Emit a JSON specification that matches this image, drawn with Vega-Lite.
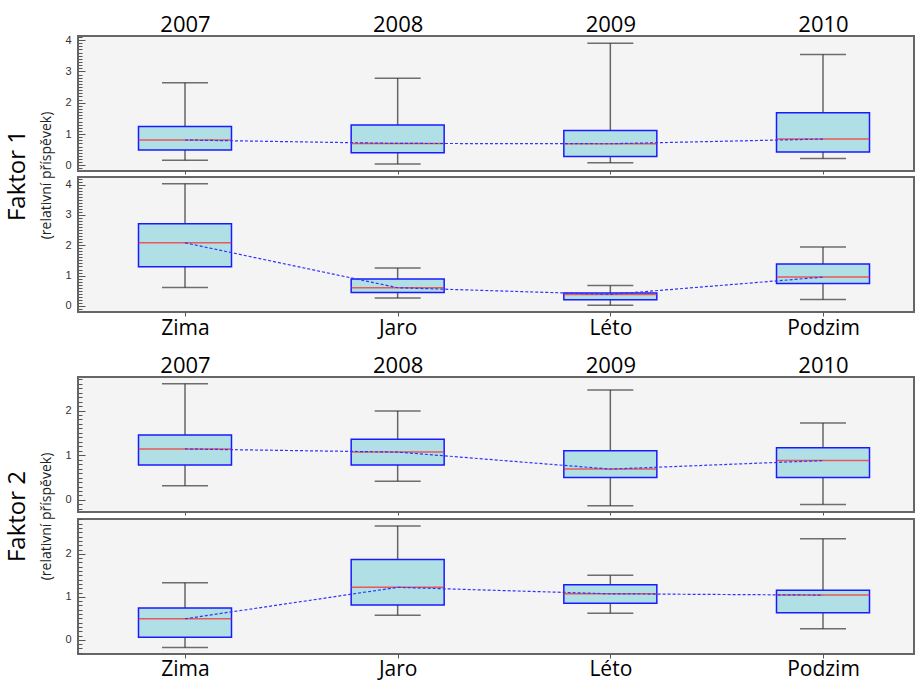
{
  "$schema": "https://vega.github.io/schema/vega-lite/v6.json",
  "background": "white",
  "padding": {"top": 12, "left": 5, "right": 2, "bottom": 0},
  "config": {
    "view": {"fill": "#f4f4f4", "stroke": "#666666", "strokeWidth": 2},
    "axis": {"grid": false, "domain": false},
    "axisY": {"labelOverlap": false, "tickColor": "#555555", "labelFont": "Liberation Sans", "labelFontSize": 11, "labelColor": "#333333", "tickWidth": 1}
  },
  "vconcat": [
    {
      "title": {"text": "Faktor 1", "subtitle": "(relativní příspěvek)", "orient": "left", "anchor": "middle", "offset": 10, "subtitlePadding": 10, "font": "Open Sans", "fontWeight": "normal", "fontSize": 24, "color": "#000000", "subtitleFont": "Open Sans", "subtitleFontSize": 14, "subtitleColor": "#222222"},
      "spacing": 0,
      "vconcat": [
        {
          "width": 836, "height": 135,
          "data": {"values": [
            {"k": "2007", "lo": 0.16, "q1": 0.49, "med": 0.81, "q3": 1.24, "hi": 2.64},
            {"k": "2008", "lo": 0.04, "q1": 0.40, "med": 0.70, "q3": 1.29, "hi": 2.78},
            {"k": "2009", "lo": 0.08, "q1": 0.28, "med": 0.69, "q3": 1.11, "hi": 3.90},
            {"k": "2010", "lo": 0.22, "q1": 0.43, "med": 0.84, "q3": 1.68, "hi": 3.54}
          ]},
          "encoding": {"x": {"field": "k", "type": "ordinal", "sort": null, "title": null, "scale": {"type": "point", "range": [107, 745], "padding": 0}, "axis": null}},
          "resolve": {"axis": {"y": "independent", "x": "independent"}},
          "layer": [
            {"mark": {"type": "rule", "color": "#666666", "strokeWidth": 1.5},
             "encoding": {
               "x": {"field": "k", "type": "ordinal", "sort": null, "title": null, "scale": {"type": "point", "range": [107, 745], "padding": 0},
                 "axis": {"orient": "top", "ticks": false, "labelPadding": 0, "labelFont": "Open Sans", "labelFontSize": 22, "labelColor": "#000000", "labelAngle": 0}},
               "y": {"field": "lo", "type": "quantitative", "title": null, "scale": {"domain": [-0.18, 4.13], "nice": false, "zero": false},
               "axis": {"values": [0, 1, 2, 3, 4], "format": "d", "tickSize": -7, "labelPadding": 14}},
               "y2": {"field": "hi"}}},
            {"mark": {"type": "tick", "color": "#333333", "size": 46, "thickness": 1.5}, "encoding": {
               "x": {"field": "k", "type": "ordinal", "sort": null, "title": null, "scale": {"type": "point", "range": [107, 745], "padding": 0},
                 "axis": {"orient": "bottom", "labels": false, "tickSize": 3, "tickColor": "#555555"}},
               "y": {"field": "lo", "type": "quantitative", "title": null,
               "axis": {"orient": "left", "labels": false, "tickSize": -4, "values": [-0.1,0.1,0.2,0.3,0.4,0.5,0.6,0.7,0.8,0.9,1.1,1.2,1.3,1.4,1.5,1.6,1.7,1.8,1.9,2.1,2.2,2.3,2.4,2.5,2.6,2.7,2.8,2.9,3.1,3.2,3.3,3.4,3.5,3.6,3.7,3.8,3.9,4.1]}}}},
            {"mark": {"type": "tick", "color": "#333333", "size": 46, "thickness": 1.5}, "encoding": {"y": {"field": "hi", "type": "quantitative", "title": null, "axis": null}}},
            {"mark": {"type": "bar", "size": 93, "fill": "#b0dfe5", "stroke": "#1a1aff", "strokeWidth": 1.5}, "encoding": {"y": {"field": "q1", "type": "quantitative", "title": null, "axis": null}, "y2": {"field": "q3"}}},
            {"mark": {"type": "tick", "color": "#ff2020", "size": 93, "thickness": 1.5}, "encoding": {"y": {"field": "med", "type": "quantitative", "title": null, "axis": null}}},
            {"mark": {"type": "line", "color": "#3333ff", "strokeWidth": 1.2, "strokeDash": [3, 2]}, "encoding": {"y": {"field": "med", "type": "quantitative", "title": null, "axis": null}}}
          ]
        },
        {
          "width": 836, "height": 135,
          "data": {"values": [
            {"k": "Zima", "lo": 0.61, "q1": 1.29, "med": 2.08, "q3": 2.71, "hi": 4.03},
            {"k": "Jaro", "lo": 0.26, "q1": 0.44, "med": 0.60, "q3": 0.89, "hi": 1.25},
            {"k": "Léto", "lo": 0.02, "q1": 0.20, "med": 0.38, "q3": 0.43, "hi": 0.67},
            {"k": "Podzim", "lo": 0.21, "q1": 0.74, "med": 0.95, "q3": 1.38, "hi": 1.94}
          ]},
          "encoding": {"x": {"field": "k", "type": "ordinal", "sort": null, "title": null, "scale": {"type": "point", "range": [107, 745], "padding": 0},
            "axis": {"orient": "bottom", "tickSize": 4, "tickColor": "#555555", "labelPadding": 1, "labelFont": "Open Sans", "labelFontSize": 21, "labelColor": "#000000", "labelAngle": 0}}},
          "resolve": {"axis": {"y": "independent"}},
          "layer": [
            {"mark": {"type": "rule", "color": "#666666", "strokeWidth": 1.5},
             "encoding": {"y": {"field": "lo", "type": "quantitative", "title": null, "scale": {"domain": [-0.2, 4.25], "nice": false, "zero": false},
               "axis": {"values": [0, 1, 2, 3, 4], "format": "d", "tickSize": -7, "labelPadding": 14}},
               "y2": {"field": "hi"}}},
            {"mark": {"type": "tick", "color": "#333333", "size": 46, "thickness": 1.5}, "encoding": {"y": {"field": "lo", "type": "quantitative", "title": null,
               "axis": {"orient": "left", "labels": false, "tickSize": -4, "values": [-0.1,0.1,0.2,0.3,0.4,0.5,0.6,0.7,0.8,0.9,1.1,1.2,1.3,1.4,1.5,1.6,1.7,1.8,1.9,2.1,2.2,2.3,2.4,2.5,2.6,2.7,2.8,2.9,3.1,3.2,3.3,3.4,3.5,3.6,3.7,3.8,3.9,4.1,4.2]}}}},
            {"mark": {"type": "tick", "color": "#333333", "size": 46, "thickness": 1.5}, "encoding": {"y": {"field": "hi", "type": "quantitative", "title": null, "axis": null}}},
            {"mark": {"type": "bar", "size": 93, "fill": "#b0dfe5", "stroke": "#1a1aff", "strokeWidth": 1.5}, "encoding": {"y": {"field": "q1", "type": "quantitative", "title": null, "axis": null}, "y2": {"field": "q3"}}},
            {"mark": {"type": "tick", "color": "#ff2020", "size": 93, "thickness": 1.5}, "encoding": {"y": {"field": "med", "type": "quantitative", "title": null, "axis": null}}},
            {"mark": {"type": "line", "color": "#3333ff", "strokeWidth": 1.2, "strokeDash": [3, 2]}, "encoding": {"y": {"field": "med", "type": "quantitative", "title": null, "axis": null}}}
          ]
        }
      ]
    },
    {
      "title": {"text": "Faktor 2", "subtitle": "(relativní příspěvek)", "orient": "left", "anchor": "middle", "offset": 10, "subtitlePadding": 10, "font": "Open Sans", "fontWeight": "normal", "fontSize": 24, "color": "#000000", "subtitleFont": "Open Sans", "subtitleFontSize": 14, "subtitleColor": "#222222"},
      "spacing": 0,
      "vconcat": [
        {
          "width": 836, "height": 135,
          "data": {"values": [
            {"k": "2007", "lo": 0.32, "q1": 0.78, "med": 1.14, "q3": 1.45, "hi": 2.60},
            {"k": "2008", "lo": 0.42, "q1": 0.78, "med": 1.07, "q3": 1.36, "hi": 1.99},
            {"k": "2009", "lo": -0.13, "q1": 0.50, "med": 0.69, "q3": 1.10, "hi": 2.46},
            {"k": "2010", "lo": -0.10, "q1": 0.50, "med": 0.88, "q3": 1.17, "hi": 1.72}
          ]},
          "encoding": {"x": {"field": "k", "type": "ordinal", "sort": null, "title": null, "scale": {"type": "point", "range": [107, 745], "padding": 0}, "axis": null}},
          "resolve": {"axis": {"y": "independent", "x": "independent"}},
          "layer": [
            {"mark": {"type": "rule", "color": "#666666", "strokeWidth": 1.5},
             "encoding": {
               "x": {"field": "k", "type": "ordinal", "sort": null, "title": null, "scale": {"type": "point", "range": [107, 745], "padding": 0},
                 "axis": {"orient": "top", "ticks": false, "labelPadding": 0, "labelFont": "Open Sans", "labelFontSize": 22, "labelColor": "#000000", "labelAngle": 0}},
               "y": {"field": "lo", "type": "quantitative", "title": null, "scale": {"domain": [-0.27, 2.75], "nice": false, "zero": false},
               "axis": {"values": [0, 1, 2], "format": "d", "tickSize": -7, "labelPadding": 14}},
               "y2": {"field": "hi"}}},
            {"mark": {"type": "tick", "color": "#333333", "size": 46, "thickness": 1.5}, "encoding": {
               "x": {"field": "k", "type": "ordinal", "sort": null, "title": null, "scale": {"type": "point", "range": [107, 745], "padding": 0},
                 "axis": {"orient": "bottom", "labels": false, "tickSize": 3, "tickColor": "#555555"}},
               "y": {"field": "lo", "type": "quantitative", "title": null,
               "axis": {"orient": "left", "labels": false, "tickSize": -4, "values": [-0.2,-0.1,0.1,0.2,0.3,0.4,0.5,0.6,0.7,0.8,0.9,1.1,1.2,1.3,1.4,1.5,1.6,1.7,1.8,1.9,2.1,2.2,2.3,2.4,2.5,2.6,2.7]}}}},
            {"mark": {"type": "tick", "color": "#333333", "size": 46, "thickness": 1.5}, "encoding": {"y": {"field": "hi", "type": "quantitative", "title": null, "axis": null}}},
            {"mark": {"type": "bar", "size": 93, "fill": "#b0dfe5", "stroke": "#1a1aff", "strokeWidth": 1.5}, "encoding": {"y": {"field": "q1", "type": "quantitative", "title": null, "axis": null}, "y2": {"field": "q3"}}},
            {"mark": {"type": "tick", "color": "#ff2020", "size": 93, "thickness": 1.5}, "encoding": {"y": {"field": "med", "type": "quantitative", "title": null, "axis": null}}},
            {"mark": {"type": "line", "color": "#3333ff", "strokeWidth": 1.2, "strokeDash": [3, 2]}, "encoding": {"y": {"field": "med", "type": "quantitative", "title": null, "axis": null}}}
          ]
        },
        {
          "width": 836, "height": 135,
          "data": {"values": [
            {"k": "Zima", "lo": -0.18, "q1": 0.06, "med": 0.49, "q3": 0.74, "hi": 1.33},
            {"k": "Jaro", "lo": 0.57, "q1": 0.81, "med": 1.22, "q3": 1.87, "hi": 2.65},
            {"k": "Léto", "lo": 0.62, "q1": 0.85, "med": 1.07, "q3": 1.28, "hi": 1.50},
            {"k": "Podzim", "lo": 0.26, "q1": 0.63, "med": 1.04, "q3": 1.15, "hi": 2.35}
          ]},
          "encoding": {"x": {"field": "k", "type": "ordinal", "sort": null, "title": null, "scale": {"type": "point", "range": [107, 745], "padding": 0},
            "axis": {"orient": "bottom", "tickSize": 4, "tickColor": "#555555", "labelPadding": 0, "labelFont": "Open Sans", "labelFontSize": 21, "labelColor": "#000000", "labelAngle": 0}}},
          "resolve": {"axis": {"y": "independent"}},
          "layer": [
            {"mark": {"type": "rule", "color": "#666666", "strokeWidth": 1.5},
             "encoding": {"y": {"field": "lo", "type": "quantitative", "title": null, "scale": {"domain": [-0.33, 2.81], "nice": false, "zero": false},
               "axis": {"values": [0, 1, 2], "format": "d", "tickSize": -7, "labelPadding": 14}},
               "y2": {"field": "hi"}}},
            {"mark": {"type": "tick", "color": "#333333", "size": 46, "thickness": 1.5}, "encoding": {"y": {"field": "lo", "type": "quantitative", "title": null,
               "axis": {"orient": "left", "labels": false, "tickSize": -4, "values": [-0.3,-0.2,-0.1,0.1,0.2,0.3,0.4,0.5,0.6,0.7,0.8,0.9,1.1,1.2,1.3,1.4,1.5,1.6,1.7,1.8,1.9,2.1,2.2,2.3,2.4,2.5,2.6,2.7,2.8]}}}},
            {"mark": {"type": "tick", "color": "#333333", "size": 46, "thickness": 1.5}, "encoding": {"y": {"field": "hi", "type": "quantitative", "title": null, "axis": null}}},
            {"mark": {"type": "bar", "size": 93, "fill": "#b0dfe5", "stroke": "#1a1aff", "strokeWidth": 1.5}, "encoding": {"y": {"field": "q1", "type": "quantitative", "title": null, "axis": null}, "y2": {"field": "q3"}}},
            {"mark": {"type": "tick", "color": "#ff2020", "size": 93, "thickness": 1.5}, "encoding": {"y": {"field": "med", "type": "quantitative", "title": null, "axis": null}}},
            {"mark": {"type": "line", "color": "#3333ff", "strokeWidth": 1.2, "strokeDash": [3, 2]}, "encoding": {"y": {"field": "med", "type": "quantitative", "title": null, "axis": null}}}
          ]
        }
      ]
    }
  ],
  "spacing": 14
}
